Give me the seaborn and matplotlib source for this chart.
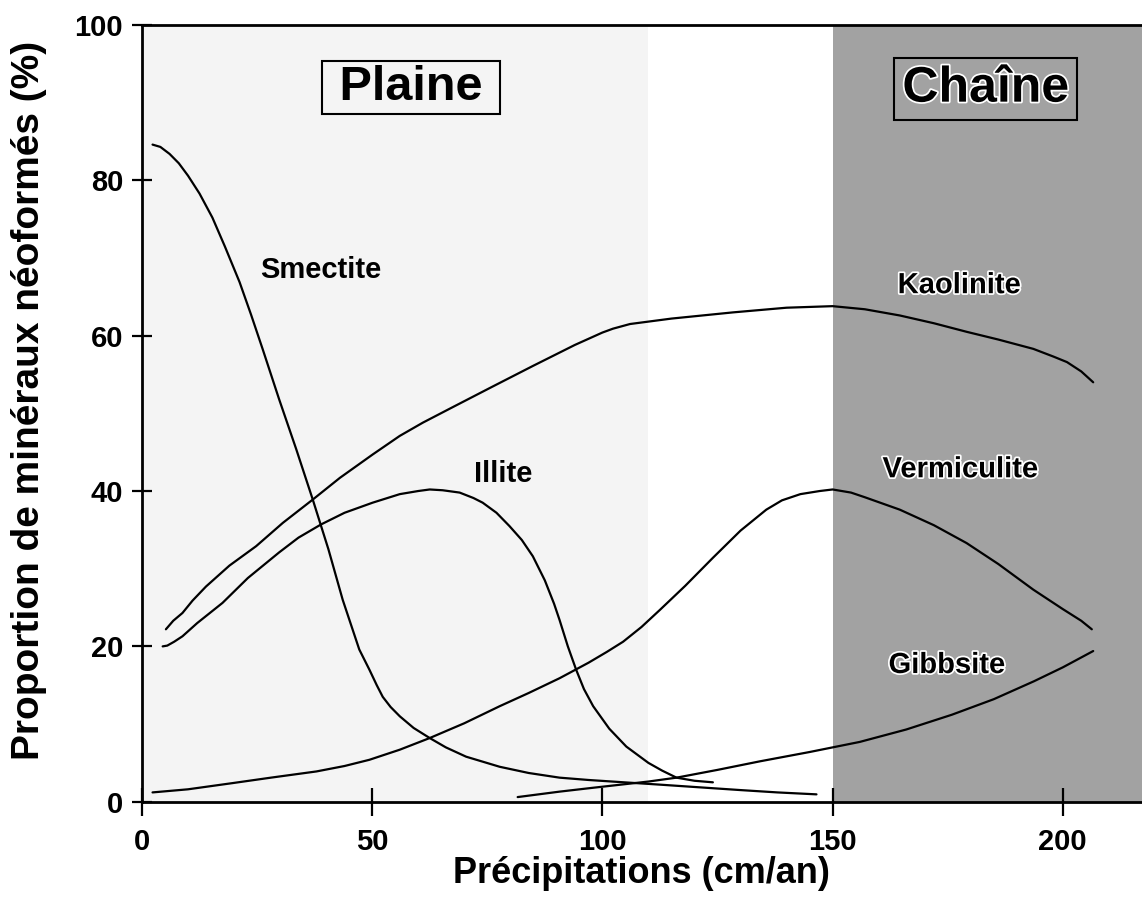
import numpy as np
import pandas as pd
import matplotlib
matplotlib.use("Agg")
import matplotlib.pyplot as plt
import matplotlib.patheffects as pe
import seaborn as sns

# ---- data ----
smectite_x = [2.3, 4, 6, 8, 10, 12.5, 15.3, 18, 21.2, 23.7, 26.2, 29.8, 33.5, 37.1, 40.5, 43.6,
              47.2, 49.4, 51, 52.3, 54, 56, 59, 62.5, 66, 70.4, 77.7, 84, 90.7, 97, 104.7, 112.5,
              120, 130, 138, 146.5]
smectite_y = [84.6, 84.3, 83.4, 82.2, 80.6, 78.3, 75.2, 71.5, 66.9, 62.7, 58.3, 51.8, 45.4, 38.9,
              32.5, 26.0, 19.6, 17.0, 15.0, 13.5, 12.2, 11.0, 9.5, 8.2, 7.0, 5.8, 4.5, 3.7, 3.1,
              2.8, 2.5, 2.2, 1.9, 1.5, 1.2, 0.95]

illite_x = [4.5, 5.5, 7, 8.8, 12, 17.5, 23, 29.8, 34, 38.9, 44, 50.1, 56, 60, 62.5, 65.3, 69, 72,
            74, 77, 79.8, 82.5, 84.9, 87.5, 89.5, 90.7, 92.5, 94.3, 96, 98, 101.5, 105.2, 110,
            113, 116.1, 120, 124]
illite_y = [20.0, 20.1, 20.6, 21.3, 23.0, 25.6, 28.8, 32.1, 34.0, 35.7, 37.2, 38.5, 39.6, 40.0,
            40.2, 40.1, 39.8, 39.1, 38.5, 37.2, 35.5, 33.7, 31.6, 28.5, 25.5, 23.4, 20.0, 17.0,
            14.5, 12.3, 9.4, 7.1, 5.0, 4.0, 3.1, 2.7, 2.5]

kaolinite_x = [5.2, 6.8, 8.8, 11, 13.9, 19, 24.8, 30.6, 37.1, 43, 50.1, 56, 61, 67.5, 76, 84.9,
               94, 100, 102.3, 106, 115, 128.4, 140, 150, 157, 164.6, 172, 179.1, 186, 193.6,
               198, 200.9, 204, 206.6]
kaolinite_y = [22.2, 23.3, 24.3, 25.9, 27.7, 30.4, 32.9, 35.9, 38.9, 41.7, 44.7, 47.1, 48.8, 50.8,
               53.4, 56.1, 58.8, 60.4, 60.9, 61.5, 62.2, 63.0, 63.6, 63.8, 63.4, 62.6, 61.6, 60.5,
               59.5, 58.3, 57.3, 56.6, 55.4, 54.0]

vermiculite_x = [2.3, 10, 19.7, 28, 37.9, 44, 49.4, 56, 62.5, 70, 77.7, 84, 90.7, 97, 101,
                 104.5, 108.5, 112.5, 118, 124, 130, 135.6, 139, 143, 147.2, 150, 154, 157,
                 164.6, 172, 179.1, 186, 193.6, 200, 204, 206.3]
vermiculite_y = [1.2, 1.6, 2.4, 3.1, 3.9, 4.6, 5.4, 6.7, 8.2, 10.1, 12.3, 14.0, 15.9, 17.9, 19.3,
                 20.6, 22.5, 24.7, 27.8, 31.4, 34.9, 37.6, 38.8, 39.6, 40.0, 40.2, 39.8, 39.2,
                 37.6, 35.6, 33.3, 30.6, 27.3, 24.8, 23.3, 22.2]

gibbsite_x = [81.6, 90.7, 98, 104, 110, 116.1, 125, 134.2, 145, 155.9, 166, 175.9, 185, 193.7,
              200, 206.6]
gibbsite_y = [0.6, 1.3, 1.8, 2.2, 2.6, 3.1, 4.1, 5.2, 6.4, 7.7, 9.3, 11.2, 13.2, 15.5, 17.3, 19.4]

x_ticks = [0, 50, 100, 150, 200]
y_ticks = [0, 20, 40, 60, 80, 100]

labels = ["Smectite", "Illite", "Kaolinite", "Vermiculite", "Gibbsite"]
label_x = [38.9, 78.4, 177.5, 177.7, 174.8]
label_y = [68.4, 42.2, 66.5, 42.8, 17.6]

# ---- build long table ----
series = {
    "Smectite": (smectite_x, smectite_y),
    "Illite": (illite_x, illite_y),
    "Kaolinite": (kaolinite_x, kaolinite_y),
    "Vermiculite": (vermiculite_x, vermiculite_y),
    "Gibbsite": (gibbsite_x, gibbsite_y),
}
df = pd.concat(
    [pd.DataFrame({"x": xs, "y": ys, "mineral": name}) for name, (xs, ys) in series.items()],
    ignore_index=True,
)

sns.set_theme(style="white")
plt.rcParams['font.family'] = ['Liberation Sans', 'DejaVu Sans']
plt.rcParams['font.weight'] = 'bold'

fig = plt.figure(figsize=(11.42, 8.98), dpi=100)
ax = fig.add_axes([0.1243, 0.1072, 0.8757, 0.865])

ax.axvspan(0, 110, color='#f4f4f4', zorder=0, lw=0)
ax.axvspan(150, 217.2, color='#a2a2a2', zorder=0, lw=0)

sns.lineplot(data=df, x="x", y="y", units="mineral", estimator=None, sort=False,
             color="black", lw=1.6, ax=ax, legend=False)

ax.set_xlim(0, 217.2)
ax.set_ylim(0, 100)
ax.set_xticks(x_ticks)
ax.set_yticks(y_ticks)
ax.tick_params(axis='x', bottom=True, direction='inout', length=20, width=1.6, labelsize=21,
               pad=9, color='black', labelcolor='black')
ax.tick_params(axis='y', left=True, direction='inout', length=15, width=1.6, labelsize=21,
               pad=6, color='black', labelcolor='black')
for lab in ax.get_xticklabels() + ax.get_yticklabels():
    lab.set_fontweight('bold')

for s in ['left', 'bottom', 'top']:
    ax.spines[s].set_visible(True)
    ax.spines[s].set_color('black')
    ax.spines[s].set_linewidth(2)
ax.spines['right'].set_visible(False)

ax.set_xlabel("Précipitations (cm/an)", fontsize=26, fontweight='bold', color='black')
ax.set_ylabel("Proportion de minéraux néoformés (%)", fontsize=28, fontweight='bold', color='black')
ax.xaxis.set_label_coords(0.499, -0.07)
ax.yaxis.set_label_coords(-0.095, 0.517)

halo = [pe.withStroke(linewidth=2.5, foreground='white')]
for name, lx, ly in zip(labels, label_x, label_y):
    t = ax.text(lx, ly, name, fontsize=21, fontweight='bold', ha='center', va='center',
                color='black')
    if lx > 150:
        t.set_path_effects(halo)

ax.text(58.5, 91.9, " Plaine ", fontsize=35, fontweight='bold', ha='center', va='center',
        color='black',
        bbox=dict(boxstyle='square,pad=0.08', fc='none', ec='black', lw=1.5))
ax.text(183.3, 91.8, "Chaîne", fontsize=36, fontweight='bold', ha='center', va='center',
        color='black', path_effects=halo,
        bbox=dict(boxstyle='square,pad=0.16', fc='none', ec='black', lw=1.5))

fig.savefig("out.png", dpi=100)
